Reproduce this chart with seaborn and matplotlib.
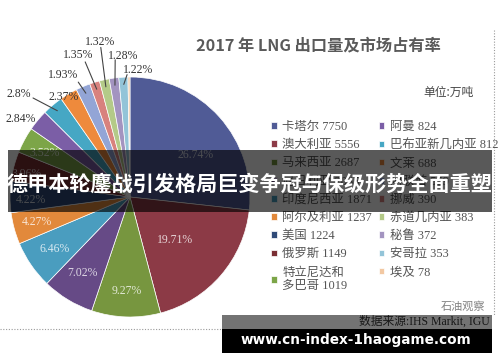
import matplotlib
matplotlib.use("Agg")
import numpy as np
import matplotlib.pyplot as plt
import seaborn as sns
from matplotlib.patches import Rectangle
from matplotlib.colors import to_rgb

# ---------------- data ----------------
countries = ["卡塔尔", "澳大利亚", "马来西亚", "尼日利亚", "印度尼西亚", "阿尔及利亚",
             "美国", "俄罗斯", "特立尼达和\n多巴哥", "阿曼", "巴布亚新几内亚", "文莱",
             "阿联酋", "挪威", "赤道几内亚", "秘鲁", "安哥拉", "埃及"]
volumes = [7750, 5556, 2687, 2035, 1871, 1237, 1224, 1149, 1019,
           824, 812, 688, 559, 390, 383, 372, 353, 78]
pct_labels = ["26.74%", "19.71%", "9.27%", "7.02%", "6.46%", "4.27%", "4.22%", "3.96%",
              "3.52%", "2.84%", "2.8%", "2.37%", "1.93%", "1.35%", "1.32%", "1.28%",
              "1.22%", ""]
title = "2017 年 LNG 出口量及市场占有率"
unit = "单位:万吨"
source = "数据来源:IHS Markit, IGU"
banner = "德甲本轮鏖战引发格局巨变争冠与保级形势全面重塑"
site = "www.cn-index-1haogame.com"
brand = "石油观察"

# ---------------- style ----------------
colors = ["#505b96", "#8c3a46", "#77963f", "#664a86", "#4a9dbf", "#e2893b",
          "#2f4a78", "#7a2e33", "#7ca548", "#7b5ea6", "#46a7c4", "#ee8a3c",
          "#93a5d6", "#d8827e", "#b4ca88", "#a394c0", "#93c4d8", "#f2c8a2"]
# label placement (radius in pie radii, angle offset from wedge middle, degrees)
lab_r = [0.65, 0.52, 0.78, 0.75, 0.76, 0.80, 0.83, 0.88, 0.80, 1.12, 1.26, 1.00,
         1.16, 1.26, 1.32, 1.18, 1.06, 0]
lab_da = [-9, -3, 0, -1, 0, 0, 2, 2, 1, 4.4, 7, 3, 5.7, 2.8, -1.3, -4.9, -6.8, 0]
inside = [True] * 9 + [False] * 9
# leader start (radius, angle offset) or None
leader = [None] * 10 + [(1.155, 4.3), None, (1.05, 1.2), (1.186, 1.2),
                        (1.27, -1.3), (1.15, -1.5), (1.02, -1.8), None]

sns.set_theme(style="white")
plt.rcParams["font.family"] = ["Noto Sans CJK SC", "DejaVu Sans"]
serif_cjk = ["Liberation Serif", "Noto Sans CJK SC"]

fig = plt.figure(figsize=(5.0, 3.62), dpi=100, facecolor="white")

# pie axes (square in pixels)
ax = fig.add_axes([10 / 500, (362 - 317) / 362, 240 / 500, 240 / 362])
wedges, _ = ax.pie(volumes, colors=colors, startangle=90, counterclock=False,
                   radius=1, wedgeprops=dict(linewidth=0.5, edgecolor="white"))
ax.set_xlim(-1, 1)
ax.set_ylim(-1, 1)
ax.set_aspect("equal")
ax.axis("off")

for i, w in enumerate(wedges):
    if not pct_labels[i]:
        continue
    mid = (w.theta1 + w.theta2) / 2
    a = np.deg2rad(mid + lab_da[i])
    x, y = lab_r[i] * np.cos(a), lab_r[i] * np.sin(a)
    if inside[i]:
        c = 0.22 * np.array(to_rgb(colors[i])) + 0.78
        tc = tuple(c)
    else:
        tc = "#333333"
    ax.text(x, y, pct_labels[i], ha="center", va="center", fontsize=8.5,
            color=tc, family=["Liberation Serif"], clip_on=False)
    if leader[i] is not None:
        r0, d0 = leader[i]
        a0 = np.deg2rad(mid + d0)
        a1 = np.deg2rad(mid)
        ax.plot([r0 * np.cos(a0), 0.94 * np.cos(a1)],
                [r0 * np.sin(a0), 0.94 * np.sin(a1)],
                color="#444444", lw=0.8, clip_on=False)

# overlay axes in pixel coordinates
ov = fig.add_axes([0, 0, 1, 1], zorder=10)
ov.set_xlim(0, 500)
ov.set_ylim(362, 0)
ov.axis("off")
ov.patch.set_alpha(0)

ov.text(318, 45, title, ha="center", va="center", fontsize=11.7,
        color="#5a5a5a", fontweight="bold")
ov.text(448, 92, unit, ha="center", va="center", fontsize=8.5, color="#444444")

leg = ov.legend(wedges, [f"{n} {v}" for n, v in zip(countries, volumes)],
                ncol=2, loc="upper left", bbox_to_anchor=(271 / 500, 1 - 121 / 362),
                frameon=False, prop={"family": serif_cjk, "size": 8.9},
                labelcolor="#555555", handlelength=0.45, handleheight=0.45,
                handletextpad=0.45, labelspacing=0.5, columnspacing=0.55,
                borderpad=0, borderaxespad=0)
leg.set_zorder(5)

# dotted frame lines
ov.plot([494, 494], [30, 315], color="#9a9a9a", lw=0.8, ls=(0, (1, 1.5)), zorder=2)
ov.plot([0, 222], [329, 329], color="#9a9a9a", lw=0.8, ls=(0, (1, 1.5)), zorder=2)

ov.text(485, 306, brand, ha="right", va="center", fontsize=8, color="#808080", zorder=3)
ov.text(490, 322, source, ha="right", va="center", fontsize=8.5, color="#333333",
        family=serif_cjk, zorder=3)

# banner overlay
ov.add_patch(Rectangle((8, 150), 484, 62, facecolor="black", alpha=0.65,
                       edgecolor="none", zorder=6))
ov.text(250, 184, banner, ha="center", va="center", fontsize=15.2, color="white",
        fontweight="bold", zorder=7)

# bottom site box
ov.add_patch(Rectangle((222, 315), 270, 14, facecolor="black", alpha=0.55,
                       edgecolor="none", zorder=6))
ov.add_patch(Rectangle((222, 329), 270, 24, facecolor="black",
                       edgecolor="none", zorder=6))
ov.text(356, 340, site, ha="center", va="center", fontsize=9.8, color="white",
        fontweight="bold", family=["DejaVu Sans"], zorder=7)

fig.savefig("out.png", dpi=100, facecolor="white")
